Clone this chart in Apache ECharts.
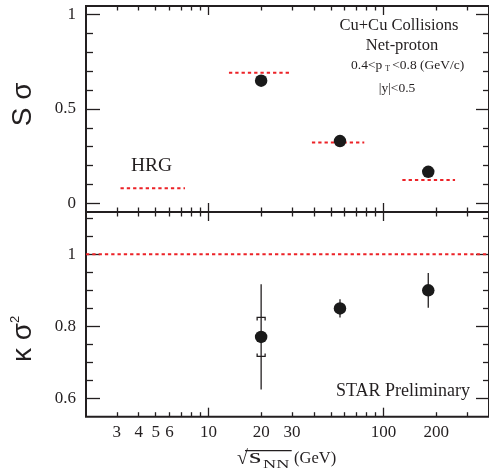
<!DOCTYPE html>
<html>
<head>
<meta charset="utf-8">
<script src="https://cdn.jsdelivr.net/npm/echarts@6/dist/echarts.min.js"></script>
<style>
  html, body { margin: 0; padding: 0; background: #fff; }
  #chart { width: 489px; height: 475px; }
</style>
</head>
<body>
<div id="chart"></div>
<script>
// Cu+Cu net-proton higher moments vs collision energy
const energies = [20, 56.4, 180];
const skewSigma = [0.650, 0.330, 0.167];
const kappaSigma2 = [0.771, 0.850, 0.900];
const kappaStat = [0.146, 0.025, 0.048];
const kappaSys = [0.054, 0, 0];

// HRG expectations
const hrgLow = [13.1, 39.0, 128];
const hrgHigh = [29.6, 77.6, 256];
const hrgSkew = [0.692, 0.322, 0.123];
const hrgKappa = 1;

// axes
const xRange = [2, 400];
const xMajor = [10, 100];
const xMinor = [3, 4, 5, 6, 7, 8, 9, 20, 30, 40, 50, 60, 70, 80, 90, 200, 300];
const xLabels = [3, 4, 5, 6, 10, 20, 30, 100, 200];
const skewRange = [-0.046, 1.046];
const skewMajor = [0, 0.5, 1];
const skewMinor = [0.1, 0.2, 0.3, 0.4, 0.6, 0.7, 0.8, 0.9];
const kappaRange = [0.55, 1.117];
const kappaMajor = [0.6, 0.8, 1];
const kappaMinor = [0.65, 0.7, 0.75, 0.85, 0.9, 0.95, 1.05, 1.1];

const INK = '#231f20';
const RED = '#ec2227';
const SERIF = '"Liberation Serif", "Times New Roman", serif';
const SANS = '"Liberation Sans", Arial, sans-serif';
const tickStyle = { color: INK, width: 1.3 };
const labelStyle = { color: INK, fontFamily: SERIF, fontSize: 17 };
const noLine = { show: false, onZero: false };

function yAxes(gridIndex, range, major, minor) {
  const base = {
    gridIndex, type: 'value', min: range[0], max: range[1],
    axisLine: noLine, splitLine: { show: false }
  };
  return [
    Object.assign({}, base, { position: 'left',
      axisTick: { inside: true, length: 14, customValues: major, lineStyle: tickStyle },
      axisLabel: Object.assign({ customValues: major, margin: 10 }, labelStyle) }),
    Object.assign({}, base, { position: 'left',
      axisTick: { inside: true, length: 7, customValues: minor, lineStyle: tickStyle },
      axisLabel: { show: false } }),
    Object.assign({}, base, { position: 'right',
      axisTick: { inside: true, length: 13, customValues: major, lineStyle: tickStyle },
      axisLabel: { show: false } }),
    Object.assign({}, base, { position: 'right',
      axisTick: { inside: true, length: 6, customValues: minor, lineStyle: tickStyle },
      axisLabel: { show: false } })
  ];
}

function xAxes(gridIndex, labels) {
  const base = {
    gridIndex, type: 'log', logBase: 10, min: xRange[0], max: xRange[1],
    axisLine: noLine, splitLine: { show: false }
  };
  const bottomLabel = labels
    ? Object.assign({ customValues: labels, margin: 7 }, labelStyle)
    : { show: false };
  return [
    Object.assign({}, base, { position: 'bottom',
      axisTick: { inside: true, length: 9, customValues: xMajor, lineStyle: tickStyle },
      axisLabel: bottomLabel }),
    Object.assign({}, base, { position: 'bottom',
      axisTick: { inside: true, length: 4.5, customValues: xMinor, lineStyle: tickStyle },
      axisLabel: { show: false } }),
    Object.assign({}, base, { position: 'top',
      axisTick: { inside: true, length: 9, customValues: xMajor, lineStyle: tickStyle },
      axisLabel: { show: false } }),
    Object.assign({}, base, { position: 'top',
      axisTick: { inside: true, length: 4.5, customValues: xMinor, lineStyle: tickStyle },
      axisLabel: { show: false } })
  ];
}

function label(x, y, text, size, extra) {
  return {
    type: 'text', x: x, y: y,
    style: Object.assign({ text: text, font: size + 'px ' + SERIF, fill: INK, align: 'center', verticalAlign: 'middle' }, extra || {})
  };
}

const chart = echarts.init(document.getElementById('chart'), null, { renderer: 'canvas' });

const option = {
  animation: false,
  backgroundColor: '#fff',
  grid: [
    { left: 86, top: 6, width: 403.5, height: 206, show: true, borderColor: INK, borderWidth: 2, backgroundColor: 'transparent' },
    { left: 86, top: 212, width: 403.5, height: 204.7, show: true, borderColor: INK, borderWidth: 2, backgroundColor: 'transparent' }
  ],
  xAxis: [].concat(xAxes(0, null), xAxes(1, xLabels)),
  yAxis: [].concat(yAxes(0, skewRange, skewMajor, skewMinor), yAxes(1, kappaRange, kappaMajor, kappaMinor)),
  series: [
    {
      name: 'HRG S sigma',
      type: 'custom',
      xAxisIndex: 0, yAxisIndex: 0,
      data: hrgLow.map((lo, i) => [lo, hrgHigh[i], hrgSkew[i]]),
      encode: { x: [0, 1], y: 2 },
      renderItem: function (params, api) {
        const a = api.coord([api.value(0), api.value(2)]);
        const b = api.coord([api.value(1), api.value(2)]);
        return {
          type: 'line',
          shape: { x1: a[0], y1: a[1], x2: b[0], y2: b[1] },
          style: { stroke: RED, lineWidth: 2, lineDash: [3.3, 3] }
        };
      },
      z: 2
    },
    {
      name: 'S sigma',
      type: 'scatter',
      xAxisIndex: 0, yAxisIndex: 0,
      data: energies.map((e, i) => [e, skewSigma[i]]),
      symbol: 'circle', symbolSize: 12.5,
      itemStyle: { color: '#1a1a1a', opacity: 1 },
      z: 3
    },
    {
      name: 'HRG kappa sigma2',
      type: 'line',
      xAxisIndex: 4, yAxisIndex: 4,
      data: [[xRange[0], hrgKappa], [xRange[1], hrgKappa]],
      symbol: 'none',
      lineStyle: { color: RED, width: 2, type: [3.3, 3] },
      z: 2
    },
    {
      name: 'kappa sigma2 errors',
      type: 'custom',
      xAxisIndex: 4, yAxisIndex: 4,
      data: energies.map((e, i) => [e, kappaSigma2[i], kappaStat[i], kappaSys[i]]),
      encode: { x: 0, y: 1 },
      renderItem: function (params, api) {
        const x = api.value(0), y = api.value(1), st = api.value(2), sy = api.value(3);
        const hi = api.coord([x, y + st]);
        const lo = api.coord([x, y - st]);
        const kids = [{
          type: 'line',
          shape: { x1: hi[0], y1: hi[1], x2: lo[0], y2: lo[1] },
          style: { stroke: INK, lineWidth: 1.3 }
        }];
        if (sy > 0) {
          const top = api.coord([x, y + sy]);
          const bot = api.coord([x, y - sy]);
          const w = 4;
          kids.push({
            type: 'polyline',
            shape: { points: [[top[0] - w, top[1] + 3], [top[0] - w, top[1]], [top[0] + w, top[1]], [top[0] + w, top[1] + 3]] },
            style: { stroke: INK, lineWidth: 1.3, fill: null }
          });
          kids.push({
            type: 'polyline',
            shape: { points: [[bot[0] - w, bot[1] - 3], [bot[0] - w, bot[1]], [bot[0] + w, bot[1]], [bot[0] + w, bot[1] - 3]] },
            style: { stroke: INK, lineWidth: 1.3, fill: null }
          });
        }
        return { type: 'group', children: kids };
      },
      z: 2
    },
    {
      name: 'kappa sigma2',
      type: 'scatter',
      xAxisIndex: 4, yAxisIndex: 4,
      data: energies.map((e, i) => [e, kappaSigma2[i]]),
      symbol: 'circle', symbolSize: 12.5,
      itemStyle: { color: '#1a1a1a', opacity: 1 },
      z: 3
    }
  ],
  graphic: [
    // y axis titles
    {
      type: 'text', x: 23.6, y: 104.4, rotation: Math.PI / 2,
      style: { text: 'S σ', font: '28px ' + SANS, fill: INK, align: 'center', verticalAlign: 'middle' }
    },
    {
      type: 'text', x: 23.6, y: 362, rotation: Math.PI / 2,
      style: {
        text: 'κ σ{sup|2}', font: '28px ' + SANS, fill: INK, align: 'left', verticalAlign: 'middle',
        rich: { sup: { fontSize: 13, fontFamily: SANS, fill: INK, padding: [0, 0, 17, 0] } }
      }
    },
    // x axis title: sqrt(s_NN) (GeV)
    label(237, 459, '√', 20, { align: 'left' }),
    {
      type: 'text', x: 249, y: 457.2, scaleX: 1.5,
      style: { text: 's', font: '21px ' + SERIF, fill: INK, align: 'left', verticalAlign: 'middle' }
    },
    {
      type: 'text', x: 263, y: 464.8, scaleX: 1.4,
      style: { text: 'NN', font: '13px ' + SERIF, fill: INK, align: 'left', verticalAlign: 'middle' }
    },
    label(294, 458.7, '(GeV)', 16.5, { align: 'left' }),
    {
      type: 'line', shape: { x1: 245, y1: 450.7, x2: 291.7, y2: 450.7 },
      style: { stroke: INK, lineWidth: 1.2 }
    },
    // annotations
    label(399, 26, 'Cu+Cu Collisions', 16.5),
    label(402, 45.5, 'Net-proton', 16.5),
    label(407.7, 65, '0.4<p{sub|T}<0.8 (GeV/c)', 13.5, {
      rich: { sub: { fontSize: 8, fontFamily: SERIF, fill: INK, padding: [8, 2, 0, 3] } }
    }),
    label(397, 88, '|y|<0.5', 13.5),
    label(403, 391.5, 'STAR Preliminary', 18),
    // HRG key
    label(151.5, 166, 'HRG', 19.5),
    {
      type: 'line', shape: { x1: 120.5, y1: 188.3, x2: 185, y2: 188.3 },
      style: { stroke: RED, lineWidth: 2, lineDash: [3.3, 3] }
    }
  ]
};

chart.setOption(option);
</script>
</body>
</html>
